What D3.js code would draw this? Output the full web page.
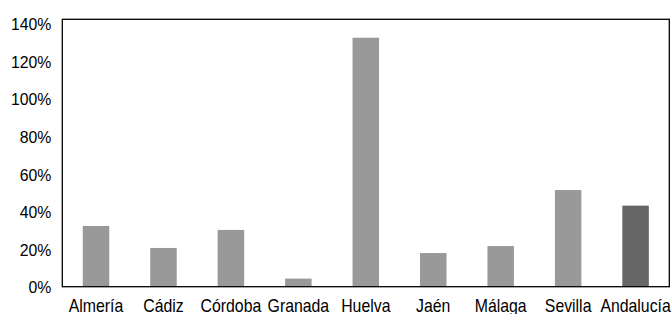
<!DOCTYPE html>
<html><head><meta charset="utf-8">
<script src="https://cdn.jsdelivr.net/npm/d3@7"></script>
<style>
html,body{margin:0;padding:0;background:#fff;}
svg{display:block;}
text{font-family:"Liberation Sans",Arial,sans-serif;fill:#000;}
</style></head>
<body>
<svg id="chart" width="672" height="314"></svg>
<script>
const categories = ["Almería","Cádiz","Córdoba","Granada","Huelva","Jaén","Málaga","Sevilla","Andalucía"];
const values = [32.3, 20.6, 30.2, 4.3, 132.4, 17.9, 21.6, 51.4, 43.1];
const highlight = ["Andalucía"];
const tickValues = [0, 20, 40, 60, 80, 100, 120, 140];
const tickLabels = ["0%","20%","40%","60%","80%","100%","120%","140%"];

const svg = d3.select("#chart");
const mLeft = 62.3, mRight = 669.3, mTop = 19.3, mBottom = 286.7;

const x = d3.scaleBand().domain(categories).range([mLeft, mRight])
  .paddingInner(0.607).paddingOuter(0.3035);
const y = d3.scaleLinear().domain([0, 142.2]).range([mBottom, mTop]);

svg.selectAll("rect.bar").data(categories).join("rect")
  .attr("class","bar")
  .attr("x", d => x(d))
  .attr("width", x.bandwidth())
  .attr("y", (d,i) => y(values[i]))
  .attr("height", (d,i) => y(0) - y(values[i]))
  .attr("fill", d => highlight.includes(d) ? "#666666" : "#999999");

svg.append("rect")
  .attr("x", mLeft).attr("y", mTop)
  .attr("width", mRight-mLeft).attr("height", mBottom-mTop)
  .attr("fill","none").attr("stroke","#000").attr("stroke-width",1.3);

const yAxis = d3.axisLeft(y).tickValues(tickValues)
  .tickFormat((d,i) => tickLabels[i]).tickSize(0).tickPadding(11);
const gy = svg.append("g").attr("transform",`translate(${mLeft},0)`).call(yAxis);
gy.select(".domain").remove();
gy.selectAll("text").attr("font-size","17px").attr("font-family","Liberation Sans, Arial, sans-serif")
  .attr("dy","0.36em")
  .attr("transform", function(){ const xx=+d3.select(this).attr("x"); return `translate(${xx},0) scale(0.93,1) translate(${-xx},0)`; });

const xAxis = d3.axisBottom(x).tickSize(0).tickPadding(0);
const gx = svg.append("g").attr("transform",`translate(0,${mBottom})`).call(xAxis);
gx.select(".domain").remove();
gx.selectAll("text").attr("font-size","18px").attr("font-family","Liberation Sans, Arial, sans-serif")
  .attr("y", 25.3).attr("dy", 0)
  .attr("transform","scale(0.88,1)");
</script>
</body></html>
